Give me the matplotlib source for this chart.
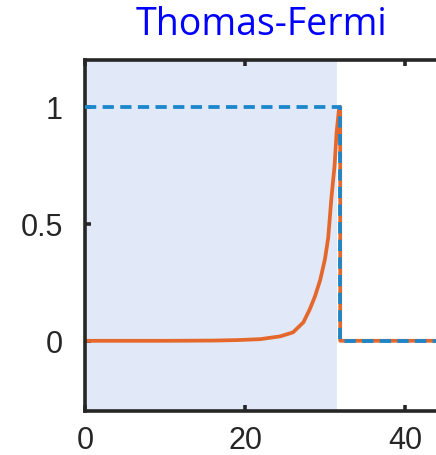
import matplotlib
matplotlib.use('Agg')
import matplotlib.pyplot as plt

# orange curve (density-like)
x_curve = [0, 10, 16, 19, 21.9, 24.4, 26.0, 27.3, 28.1, 28.75, 29.4, 30.0, 30.4,
           30.8, 31.2, 31.45, 31.75, 31.9, 31.9, 40, 50]
y_curve = [0, 0, 0.001, 0.003, 0.007, 0.019, 0.036, 0.079, 0.135, 0.19, 0.26, 0.35, 0.44,
           0.61, 0.75, 0.89, 0.99, 1.0, 0, 0, 0]

# blue dashed step (Thomas-Fermi)
x_step = [0, 31.9, 31.9, 50]
y_step = [1, 1, 0, 0]

shade_end = 31.5
xticks = [0, 20, 40]
yticks = [0, 0.5, 1]
yticklabels = ['0', '0.5', '1']

fig = plt.figure(figsize=(4.36, 4.56), dpi=100)
W, H = 436, 456
ax = fig.add_axes([85 / W, 44 / H, 400 / W, 351 / H])

ax.axvspan(0, shade_end, color='#e1e8f8', lw=0, zorder=0)
ax.plot(x_curve, y_curve, color='#e4682c', lw=2.7, zorder=2, solid_joinstyle='round')
ax.plot(x_step, y_step, color='#1a86cc', lw=2.7, dashes=(3.0, 1.7), zorder=3)

ax.set_xlim(0, 50)
ax.set_ylim(-0.3, 1.2)
ax.set_xticks(xticks)
ax.set_yticks(yticks)
ax.set_yticklabels(yticklabels)

for s in ['left', 'bottom', 'top']:
    ax.spines[s].set_linewidth(2.6)
    ax.spines[s].set_color('#262626')
ax.spines['right'].set_visible(False)

ax.tick_params(direction='in', length=4, width=2.6, color='#262626',
               labelsize=22, labelcolor='#262626', top=True)
ax.tick_params(axis='x', pad=10)
ax.tick_params(axis='y', pad=16)
for lab in ax.get_xticklabels() + ax.get_yticklabels():
    lab.set_fontfamily('Liberation Sans')

fig.text(261 / W, 1 - 25 / H, 'Thomas-Fermi', color='#0000ff', fontsize=27,
         family='Open Sans', ha='center', va='center')

fig.savefig('out.png', dpi=100)
